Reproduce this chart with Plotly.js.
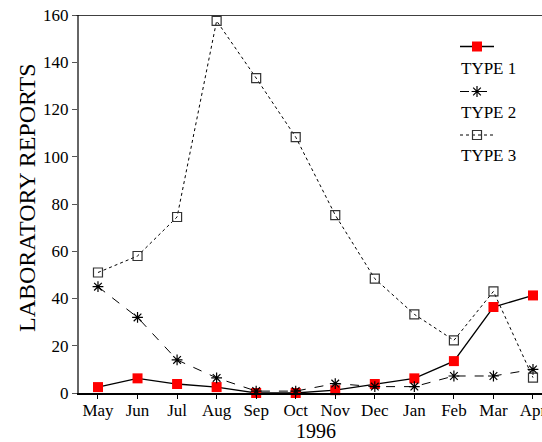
<!DOCTYPE html>
<html><head><meta charset="utf-8">
<script src="https://cdn.plot.ly/plotly-3.0.1.min.js"></script>
<style>html,body{margin:0;padding:0;background:#fff;overflow:hidden;width:542px;height:442px}#c{width:570px;height:442px}</style>
</head><body><div id="c"></div>
<script>
const months = ["May","Jun","Jul","Aug","Sep","Oct","Nov","Dec","Jan","Feb","Mar","Apr"];
const type1 = [2.5, 6.2, 3.8, 2.5, 0, 0, 1.2, 3.8, 6.2, 13.5, 36.4, 41.3];
const type2 = [45, 32, 14, 6.4, 0.8, 0.8, 4, 2.7, 2.7, 7.2, 7.2, 10];
const type3 = [51, 58, 74.5, 157.5, 133.3, 108.3, 75.3, 48.4, 33.3, 22.3, 43, 6.5];
const seriesNames = ["TYPE 1","TYPE 2","TYPE 3"];
const xTitle = "1996";
const yTitle = "LABORATORY REPORTS";

const FONT = "Liberation Serif, Times New Roman, serif";
const W = 570, L = 79;
const PW = W - L;
const idx = months.map((_, i) => i);
const styles = [
  {line:{color:"#000",width:1.3,dash:"solid"}, marker:{symbol:"square",size:10,color:"#ff0000",line:{width:0}}},
  {line:{color:"#000",width:1,dash:"dash"}, marker:{symbol:"asterisk-open",size:9,color:"#000",line:{width:1.2,color:"#000"}}},
  {line:{color:"#000",width:1,dash:"dot"}, marker:{symbol:"square-open",size:9,color:"#333",line:{width:1.2,color:"#333"}}}
];
const data = [type1, type2, type3].map((ys, k) => ({
  x: idx, y: ys, type: "scatter", mode: "lines+markers", name: seriesNames[k],
  line: styles[k].line, marker: styles[k].marker, cliponaxis: false, showlegend: false
}));

// legend samples drawn in a pixel-mapped overlay axis
const legY = [46.5, 91.5, 135];
const legT = [68, 112, 155];
const legendX0 = 460, legendX1 = 494;
seriesNames.forEach((n, k) => {
  data.push({x:[legendX0, legendX1], y:[legY[k], legY[k]], xaxis:"x2", yaxis:"y2", mode:"lines",
    line: styles[k].line, showlegend:false, hoverinfo:"skip", cliponaxis:false});
  data.push({x:[(legendX0+legendX1)/2], y:[legY[k]], xaxis:"x2", yaxis:"y2", mode:"markers",
    marker: styles[k].marker, showlegend:false, hoverinfo:"skip", cliponaxis:false});
});

const annotations = seriesNames.map((n, k) => ({
  xref:"x2", yref:"y2", x: legendX0 - 1, y: legT[k], text: n, showarrow:false,
  xanchor:"left", yanchor:"middle", font:{family:FONT, size:17, color:"#000"}
}));
annotations.push({xref:"paper", yref:"paper", x:(27-L)/PW, y:(393-198)/378, text:yTitle, textangle:-90,
  showarrow:false, xanchor:"center", yanchor:"middle", font:{family:FONT, size:24, color:"#000"}});
annotations.push({xref:"paper", yref:"paper", x:(316-L)/PW, y:(393-431)/378, text:xTitle,
  showarrow:false, xanchor:"center", yanchor:"middle", font:{family:FONT, size:20, color:"#000"}});

const layout = {
  width:W, height:442,
  margin:{l:L, r:0, t:15, b:49, pad:0},
  paper_bgcolor:"#fff", plot_bgcolor:"#fff",
  showlegend:false,
  xaxis:{
    range:[-0.48, (W-98)/39.545], tickvals: idx, ticktext: months, showgrid:false, zeroline:false,
    showline:true, linecolor:"#000", linewidth:2, ticks:"outside", ticklen:4, tickwidth:1, tickcolor:"#000",
    ticklabelstandoff:-3,
    tickfont:{family:FONT, size:17, color:"#000"}, fixedrange:true
  },
  yaxis:{
    range:[0,160], tickvals:[0,20,40,60,80,100,120,140,160], showgrid:false, zeroline:false,
    showline:true, linecolor:"#666", linewidth:2, ticks:"outside", ticklen:5, tickwidth:1, tickcolor:"#555",
    tickfont:{family:FONT, size:17, color:"#000"}, fixedrange:true
  },
  xaxis2:{overlaying:"x", range:[L,W], visible:false, fixedrange:true},
  yaxis2:{overlaying:"y", range:[393,15], visible:false, fixedrange:true},
  shapes:[{type:"line", xref:"paper", yref:"y", x0:-0.005, x1:1, y0:160, y1:160, line:{color:"#000", width:1.5}}],
  annotations
};
Plotly.newPlot("c", data, layout, {displayModeBar:false, staticPlot:true});
</script></body></html>
